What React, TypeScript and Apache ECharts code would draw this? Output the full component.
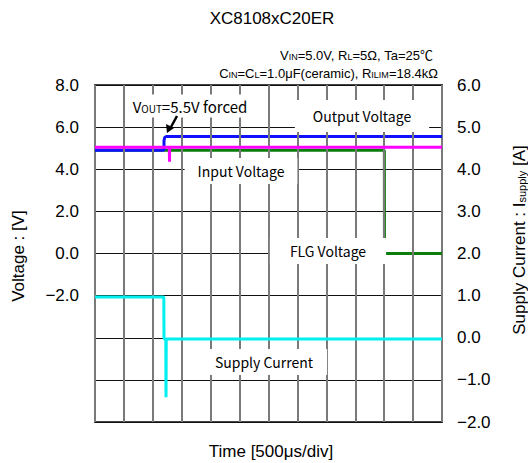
import React, { useEffect, useRef } from "react";
import * as echarts from "echarts";

// time in µs (500 µs/div, 12 divisions)
const timeMin = 0;
const timeMax = 6000;
const timeStep = 500;
const timeDivisions = [500, 1000, 1500, 2000, 2500, 3000, 3500, 4000, 4500, 5000, 5500];

const outputVoltage: [number, number][] = [
  [0, 4.9], [1193, 4.9], [1193, 5.35], [1203, 5.5], [1228, 5.55], [1260, 5.56], [6000, 5.56],
];
const inputVoltage: [number, number][] = [
  [0, 5.05], [1285, 5.05], [1288, 4.36], [1291, 5.05], [6000, 5.05],
];
const flgVoltage: [number, number][] = [
  [0, 4.9], [5003, 4.9], [5005, 0.0], [6000, 0.0],
];
const supplyCurrent: [number, number][] = [
  [0, 0.97], [1190, 0.97], [1193, -0.02], [1224, -0.04], [1228, -1.41], [1232, -0.03], [6000, -0.03],
];

const voltTicks = { min: -8, max: 8, step: 2, lowestLabel: -2 };
const currTicks = { min: -2, max: 6, step: 1 };

const fmt = (v: number) => v.toFixed(1).replace("-", "\u2212");

const GRID = { left: 95, top: 85, right: 86, bottom: 41 };

export default function App() {
  const ref = useRef<HTMLDivElement>(null);
  useEffect(() => {
    if (!ref.current) return;
    const chart = echarts.init(ref.current, null, { renderer: "svg" });
    const sans = "'Liberation Sans', Arial, 'Noto Sans CJK JP', sans-serif";
    const jp = "'Noto Sans CJK JP', sans-serif";
    const sub = { fontSize: 9, verticalAlign: "bottom", lineHeight: 10, fontFamily: sans, fill: "#000" };
    const labelBox = (text: string, x: number, y: number, pad: number[]) => ({
      type: "text",
      z: 20,
      style: {
        text, x, y,
        align: "center", verticalAlign: "middle",
        fontSize: 14, fontFamily: jp, fill: "#000",
        backgroundColor: "#fff", padding: pad,
      },
    });
    chart.setOption({
      animation: false,
      backgroundColor: "#fff",
      grid: {
        ...GRID,
        show: true, borderColor: "#444", borderWidth: 2, backgroundColor: "transparent",
      },
      xAxis: {
        type: "value", min: timeMin, max: timeMax, interval: timeStep, position: "bottom",
        axisLabel: { show: false },
        axisTick: { show: false },
        axisLine: { show: false, onZero: false },
        splitLine: { show: true, lineStyle: { color: "#7a7a7a", width: 2 } },
      },
      yAxis: [
        {
          type: "value", min: voltTicks.min, max: voltTicks.max, interval: voltTicks.step,
          axisLine: { show: false }, axisTick: { show: false },
          axisLabel: {
            margin: 16, fontSize: 17, color: "#000", fontFamily: sans,
            formatter: (v: number) => (v < voltTicks.lowestLabel ? "" : fmt(v)),
          },
          splitLine: { show: true, lineStyle: { color: "#111", width: 1 } },
        },
        {
          type: "value", min: currTicks.min, max: currTicks.max, interval: currTicks.step,
          position: "right",
          axisLine: { show: false }, axisTick: { show: false },
          axisLabel: { margin: 15, fontSize: 17, color: "#000", fontFamily: sans, formatter: (v: number) => fmt(v) },
          splitLine: { show: false },
        },
      ],
      series: [
        { name: "grid", type: "line", data: [], yAxisIndex: 0, z: 0, silent: true,
          markLine: {
            silent: true, symbol: "none", animation: false,
            label: { show: false },
            lineStyle: { color: "#7a7a7a", width: 2, type: "solid" },
            emphasis: { disabled: true },
            data: timeDivisions.map((t) => ({ xAxis: t })),
          } },
        { name: "FLG Voltage", type: "line", data: flgVoltage, showSymbol: false, yAxisIndex: 0, z: 3,
          lineStyle: { color: "#0a7d0a", width: 3 } },
        { name: "Output Voltage", type: "line", data: outputVoltage, showSymbol: false, yAxisIndex: 0, z: 4,
          lineStyle: { color: "#1010ff", width: 3 } },
        { name: "Input Voltage", type: "line", data: inputVoltage, showSymbol: false, yAxisIndex: 0, z: 5,
          lineStyle: { color: "#ff00ff", width: 3 } },
        { name: "Supply Current", type: "line", data: supplyCurrent, showSymbol: false, yAxisIndex: 1, z: 5,
          lineStyle: { color: "#00f0f0", width: 3 } },
      ],
      graphic: [
        { type: "text", style: { text: "XC8108xC20ER", x: 272, y: 18, align: "center", verticalAlign: "middle",
          fontSize: 17, fontFamily: sans, fill: "#000" } },
        { type: "text", style: {
          text: "V{sub|IN}=5.0V, R{sub|L}=5Ω, Ta=25℃", x: 433, y: 55, align: "right", verticalAlign: "middle",
          fontSize: 13, fontFamily: sans, fill: "#000", rich: { sub } } },
        { type: "text", style: {
          text: "C{sub|IN}=C{sub|L}=1.0μF(ceramic), R{sub|ILIM}=18.4kΩ", x: 438, y: 73, align: "right", verticalAlign: "middle",
          fontSize: 13, fontFamily: sans, fill: "#000", rich: { sub } } },
        { type: "group", x: 18, y: 256, rotation: Math.PI / 2, children: [
          { type: "text", style: { text: "Voltage : [V]", x: 0, y: 0, align: "center", verticalAlign: "middle",
            fontSize: 17, fontFamily: sans, fill: "#000" } },
        ] },
        { type: "group", x: 519, y: 240, rotation: Math.PI / 2, children: [
          { type: "text", style: { text: "Supply Current : I{s|supply} [A]", x: 0, y: 0, align: "center", verticalAlign: "middle",
            fontSize: 17, fontFamily: sans, fill: "#000",
            rich: { s: { fontSize: 11, verticalAlign: "bottom", lineHeight: 12, fontFamily: sans, fill: "#000" } } } },
        ] },
        { type: "text", style: { text: "Time [500μs/div]", x: 271, y: 451, align: "center", verticalAlign: "middle",
          fontSize: 17, fontFamily: sans, fill: "#000" } },
        labelBox("Output Voltage", 362, 116, [9, 18, 9, 18]),
        labelBox("Input Voltage", 241, 171, [6, 13, 6, 13]),
        labelBox("FLG Voltage", 328, 251, [6, 20, 6, 20]),
        labelBox("Supply Current", 264, 362, [6, 14, 6, 14]),
        { type: "text", z: 20, style: {
          text: "V{sub|OUT}=5.5V forced", x: 190, y: 106, align: "center", verticalAlign: "middle",
          fontSize: 15, fontFamily: jp, fill: "#000", backgroundColor: "#fff", padding: [4, 5, 4, 5],
          rich: { sub: { fontSize: 10, verticalAlign: "bottom", lineHeight: 11, fontFamily: jp, fill: "#000" } } } },
        { type: "line", z: 30, shape: { x1: 177, y1: 116, x2: 171, y2: 127 }, style: { stroke: "#000", lineWidth: 2.5 } },
        { type: "polygon", z: 30, shape: { points: [[167, 133], [166, 124], [174, 128]] }, style: { fill: "#000" } },
      ],
    });
    return () => chart.dispose();
  }, []);
  return <div ref={ref} style={{ width: 528, height: 463, position: "absolute", left: 0, top: 0 }} />;
}
